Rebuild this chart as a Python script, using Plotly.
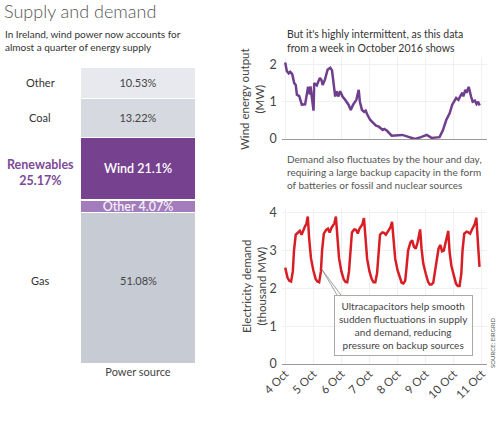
import pandas as pd
import plotly.graph_objects as go

# ---------------- data ----------------
# Left: share of power sources (%), stacked from bottom
source_names = ["Gas", "Other renewables", "Wind", "Coal", "Other"]
source_shares = [51.08, 4.07, 21.1, 13.22, 10.53]
source_labels = ["51.08%", "Other 4.07%", "Wind 21.1%", "13.22%", "10.53%"]
side_labels = ["Gas", "", "", "Coal", "Other"]
renewables_label = "Renewables<br>25.17%"

# Wind output: hours since 4 Oct 2016 00:00, value
wind_hours = [0, 1.4, 3, 4.3, 6, 7.7, 9, 10, 12, 14.2, 17, 19.4, 20.5, 21, 21.6, 24.2, 24.8,
              27, 29.6, 31, 32, 34, 36.2, 38.5, 40, 41.3, 42.7, 44, 45.3, 47, 49, 51.2, 54.1,
              56, 58, 60.8, 62.8, 63.8, 65.6, 67.5, 68.8, 69.9, 72.7, 75.6, 77.6, 80, 83.3,
              84.7, 87, 91, 95, 100, 104, 111, 116, 121, 125, 131.9, 134.8, 137.6, 140.5,
              142.7, 146.1, 148, 150.3, 151.5, 152.2, 153.9, 155, 156.8, 158.8, 160.2, 162.1,
              163.5, 164.8, 166.2]
wind_values = [2.05, 1.82, 1.76, 1.80, 1.74, 1.50, 1.45, 1.19, 1.15, 0.92, 0.93, 1.37, 1.36,
               1.19, 1.41, 0.76, 1.50, 1.44, 1.64, 1.58, 1.45, 1.60, 1.86, 1.91, 1.84, 1.55,
               1.14, 1.28, 1.14, 1.28, 1.14, 1.05, 0.92, 0.78, 0.92, 1.05, 1.32, 1.00, 0.78,
               0.73, 0.76, 0.67, 0.51, 0.42, 0.36, 0.33, 0.24, 0.27, 0.22, 0.09, 0.09, 0.11,
               0.07, 0.00, 0.05, 0.11, 0.03, 0.05, 0.24, 0.51, 0.69, 0.92, 1.10, 1.05, 1.19,
               1.24, 1.14, 1.32, 1.24, 1.40, 1.14, 1.00, 1.03, 0.94, 1.00, 0.90]

# Electricity demand (thousand MW): hour of day sample points and values per day
demand_day_hours = [0, 2, 3.5, 5, 6.5, 7.5, 9, 11, 12.5, 14, 15.5, 17, 18, 19.3, 20.5, 22]
demand_by_day = [
    [2.55, 2.28, 2.20, 2.18, 2.45, 3.00, 3.42, 3.48, 3.52, 3.42, 3.55, 3.65, 3.70, 3.90, 3.30, 2.80],
    [2.48, 2.25, 2.18, 2.16, 2.45, 3.00, 3.45, 3.55, 3.58, 3.48, 3.60, 3.68, 3.72, 3.90, 3.30, 2.80],
    [2.45, 2.24, 2.17, 2.16, 2.45, 3.00, 3.48, 3.56, 3.55, 3.45, 3.58, 3.65, 3.70, 3.86, 3.25, 2.78],
    [2.45, 2.24, 2.16, 2.16, 2.40, 2.95, 3.42, 3.48, 3.47, 3.42, 3.50, 3.58, 3.62, 3.76, 3.20, 2.78],
    [2.48, 2.25, 2.15, 2.13, 2.20, 2.50, 3.00, 3.22, 3.27, 3.10, 3.05, 3.20, 3.35, 3.56, 3.05, 2.65],
    [2.40, 2.18, 2.10, 2.10, 2.15, 2.35, 2.75, 3.05, 3.15, 2.98, 3.00, 3.20, 3.30, 3.52, 2.95, 2.60],
    [2.35, 2.12, 2.06, 2.06, 2.40, 3.00, 3.45, 3.50, 3.48, 3.45, 3.55, 3.62, 3.70, 3.87, 3.20, 2.57],
]
start_date = pd.Timestamp("2016-10-04")
date_ticks = ["2016-10-04", "2016-10-05", "2016-10-06", "2016-10-07",
              "2016-10-08", "2016-10-09", "2016-10-10", "2016-10-11"]
date_ticktext = ["4 Oct", "5 Oct", "6 Oct", "7 Oct", "8 Oct", "9 Oct", "10 Oct", "11 Oct"]

# ---------------- styling ----------------
W, H = 500, 421
FONT = "Lato"
TXT = "#444444"
PURPLE = "#6f3f8d"
RED = "#d81e24"
bar_colors = ["#c7cbd4", "#a27cbb", "#76428f", "#d7d9e0", "#e8e9ee"]
bar_text_colors = ["#444444", "#f4eef8", "#ffffff", "#444444", "#444444"]


def px(x):
    return x / W


def py(y):
    return 1 - y / H


wind_x = [start_date + pd.Timedelta(hours=h) for h in wind_hours]
demand_x = []
demand_y = []
for d, vals in enumerate(demand_by_day):
    for h, v in zip(demand_day_hours, vals):
        demand_x.append(start_date + pd.Timedelta(days=d, hours=h))
        demand_y.append(v)

fig = go.Figure()

# Stacked bar
for name, val, lab, col, tcol in zip(source_names, source_shares, source_labels,
                                     bar_colors, bar_text_colors):
    purple_text = tcol != "#444444"
    fig.add_trace(go.Bar(
        x=["Power source"], y=[val], name=name, marker_color=col,
        marker_line_color="white", marker_line_width=1.5,
        text=[lab if name != "Gas" else ""], textposition="inside",
        insidetextanchor="middle", constraintext="none",
        textfont=dict(color=tcol, size=12.5 if purple_text else 11, family=FONT,
                      weight=600 if purple_text else 400),
        width=1, xaxis="x", yaxis="y", hoverinfo="skip", showlegend=False,
    ))

fig.add_trace(go.Scatter(x=wind_x, y=wind_values, mode="lines",
                         line=dict(color=PURPLE, width=2.5), xaxis="x2", yaxis="y2",
                         showlegend=False, hoverinfo="skip"))
fig.add_trace(go.Scatter(x=demand_x, y=demand_y, mode="lines",
                         line=dict(color=RED, width=2.5), xaxis="x3", yaxis="y3",
                         showlegend=False, hoverinfo="skip"))

date_range = ["2016-10-03 21:00", "2016-10-11 04:00"]
grid = "#f0f0f3"

fig.update_layout(
    template="none",
    width=W, height=H, margin=dict(l=0, r=0, t=0, b=0, autoexpand=False),
    paper_bgcolor="white", plot_bgcolor="white", barmode="stack", showlegend=False,
    font=dict(family=FONT, color=TXT, size=11),
    xaxis=dict(domain=[px(80), px(196)], range=[-0.5, 0.5], showgrid=False, zeroline=False,
               showline=False, ticks="", tickfont=dict(size=11, color=TXT), anchor="y",
               automargin=False),
    yaxis=dict(domain=[py(364), py(67)], range=[0, 100], visible=False, anchor="x",
               automargin=False),
    xaxis2=dict(domain=[px(281.7), px(486.5)], range=date_range, type="date",
                tickvals=date_ticks, showticklabels=False, showgrid=True, gridcolor=grid,
                zeroline=False, showline=False, ticks="", anchor="y2", automargin=False),
    yaxis2=dict(domain=[py(139), py(57)], range=[0, 2.2], tickvals=[0, 1, 2], ticks="",
                showgrid=True, gridcolor=grid, zeroline=True, zerolinecolor="#9a9a9a",
                zerolinewidth=1.2, showline=False, tickfont=dict(size=12.5, color=TXT),
                anchor="x2", ticklabelstandoff=4, automargin=False),
    xaxis3=dict(domain=[px(281.7), px(486.5)], range=date_range, type="date",
                tickvals=date_ticks, ticktext=date_ticktext, tickangle=-45, ticks="",
                showgrid=True, gridcolor=grid, zeroline=False, showline=False,
                tickfont=dict(size=11.5, color=TXT), anchor="y3", automargin=False),
    yaxis3=dict(domain=[py(364), py(209)], range=[0, 4.1], tickvals=[0, 1, 2, 3, 4], ticks="",
                showgrid=True, gridcolor=grid, zeroline=True, zerolinecolor="#9a9a9a",
                zerolinewidth=1.2, showline=False, tickfont=dict(size=12.5, color=TXT),
                anchor="x3", ticklabelstandoff=4, automargin=False),
)

ann = []


def note(x, y, text, xanchor="center", **kw):
    d = dict(x=x, y=y, xref=kw.pop("xref", "paper"), yref=kw.pop("yref", "paper"),
             xanchor=xanchor, yanchor="middle", text=text, showarrow=False)
    d.update(kw)
    ann.append(d)


note(px(2), py(11), "Supply and demand", xanchor="left",
     font=dict(family=FONT, size=18, color="#555555", weight=300))
note(px(3), py(41), "In Ireland, wind power now accounts for<br>almost a quarter of energy supply",
     xanchor="left", align="left", font=dict(size=10, color="#333333"))
note(px(285), py(41), "But it's highly intermittent, as this data<br>from a week in October 2016 shows",
     xanchor="left", align="left", font=dict(size=10.5, color="#333333"))
note(px(285), py(172),
     "Demand also fluctuates by the hour and day,<br>requiring a large backup capacity in the form<br>of batteries or fossil and nuclear sources",
     xanchor="left", align="left", font=dict(size=10, color="#555555"))
# side labels of bar
cum = 0
for name, val, lab in zip(source_names, source_shares, side_labels):
    mid = cum + val / 2
    if lab:
        note(px(40), mid + (2.5 if name == "Gas" else 0), lab, yref="y",
             font=dict(size=11, color="#333333"))
    if name == "Gas":
        note(0, mid + 2.5, source_labels[0], xref="x", yref="y", font=dict(size=11, color=TXT))
    cum += val
note(px(40), py(172), renewables_label, align="center",
     font=dict(size=12.5, color="#7b4a98", weight="bold"))
# axis titles
note(px(252), py(99), "Wind energy output<br>(MW)", textangle=-90,
     font=dict(size=11.5, color=TXT))
note(px(254), py(287), "Electricity demand<br>(thousand MW)", textangle=-90,
     font=dict(size=11.5, color=TXT))
# callout box
note(px(403), py(325),
     "Ultracapacitors help smooth<br>sudden fluctuations in supply<br>and demand, reducing<br>pressure on backup sources",
     align="center", bgcolor="white", bordercolor="#aaaaaa", borderwidth=1, borderpad=4,
     font=dict(size=10, color=TXT))
pointer_x = start_date + pd.Timedelta(hours=31.4)
for dx in (16, 20):
    ann.append(dict(x=pointer_x, y=2.5, xref="x3", yref="y3", text="", showarrow=True,
                    arrowhead=0, arrowwidth=0.8, arrowcolor="#888888", ax=dx, ay=27,
                    axref="pixel", ayref="pixel"))
note(px(492), py(343), "SOURCE: EIRGRID", textangle=-90, font=dict(size=6, color="#555555"))

fig.update_layout(annotations=ann)
fig.write_html("out.html", config={"displayModeBar": False},
               post_script="document.body.style.margin='0';")
